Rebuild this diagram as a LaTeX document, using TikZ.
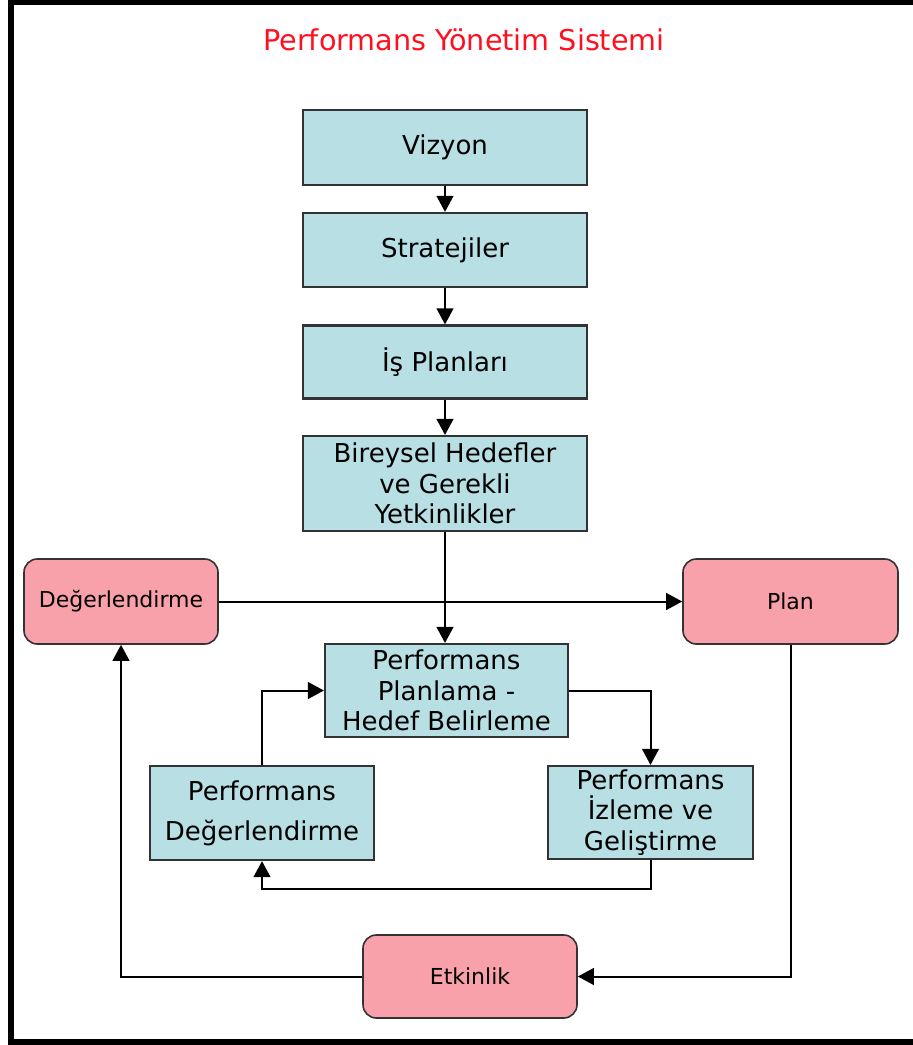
\documentclass[tikz,border=0pt]{standalone}
\usepackage{fontspec}
\setmainfont{DejaVu Sans}
\usetikzlibrary{arrows.meta}
\definecolor{tealbox}{HTML}{B8DFE3}
\definecolor{pinkbox}{HTML}{F9A1AA}
\definecolor{titlered}{HTML}{FF1020}
\tikzset{
  tbox/.style={rectangle, draw=black!80, line width=1.6pt, fill=tealbox, inner sep=0pt, align=center,
    font=\fontsize{19.5}{23}\selectfont, text=black},
  pbox/.style={rectangle, rounded corners=10pt, draw=black!80, line width=1.2pt, fill=pinkbox, inner sep=0pt, align=center,
    font=\fontsize{16.5}{19}\selectfont, text=black},
  conn/.style={line width=1.5pt, -{Triangle[length=12pt,width=12.5pt]}},
}
\begin{document}
\begin{tikzpicture}[x=0.75pt,y=-0.75pt]
\useasboundingbox (0,0) rectangle (913,1045);
\fill[white] (0,0) rectangle (913,1045);
% frame
\fill[black] (8,0) rectangle (14,1045);
\fill[black] (8,0) rectangle (913,5);
\fill[black] (8,1039) rectangle (913,1045);
% title
\node[text=titlered, font=\fontsize{21.5}{25}\selectfont, anchor=base] (title) at (464,51) {Performans Yönetim Sistemi};
% boxes
\node[tbox, minimum width=284*0.75pt, minimum height=75*0.75pt] (viz) at (445,147.5) {Vizyon};
\node[tbox, minimum width=284*0.75pt, minimum height=74*0.75pt] (str) at (445,250) {Stratejiler};
\node[tbox, minimum width=284*0.75pt, minimum height=73*0.75pt] (isp) at (445,362) {İş Planları};
\node[tbox, minimum width=284*0.75pt, minimum height=95*0.75pt] (bir) at (445,483.5) {Bireysel Hedefler\\ve Gerekli\\Yetkinlikler};
\node[pbox, minimum width=194*0.75pt, minimum height=85*0.75pt] (deg) at (121,601.5) {Değerlendirme};
\node[pbox, minimum width=215*0.75pt, minimum height=85*0.75pt] (plan) at (790.5,601.5) {Plan};
\node[tbox, minimum width=243*0.75pt, minimum height=93*0.75pt] (ppl) at (446.5,690.5) {Performans\\Planlama -\\Hedef Belirleme};
\node[tbox, minimum width=205*0.75pt, minimum height=93*0.75pt] (piz) at (650.5,812.5) {Performans\\İzleme ve\\Geliştirme};
\node[tbox, minimum width=224*0.75pt, minimum height=94*0.75pt] (pdeg) at (262,813) {Performans\\[7pt]Değerlendirme};
\node[pbox, minimum width=214*0.75pt, minimum height=83*0.75pt] (etk) at (470,976.5) {Etkinlik};
% connectors
\draw[conn] (viz.south) -- (str.north);
\draw[conn] (str.south) -- (isp.north);
\draw[conn] (isp.south) -- (bir.north);
\draw[conn] (bir.south) -- (bir.south |- ppl.north);
\draw[conn] (deg.east) -- (plan.west);
\draw[conn] (plan.south) |- (etk.east);
\draw[conn] (etk.west) -| (deg.south);
\draw[conn] (pdeg.north) |- (ppl.west);
\draw[conn] (ppl.east) -| (piz.north);
\draw[conn] (piz.south) -- ++(0,29) -| (pdeg.south);
\end{tikzpicture}
\end{document}
